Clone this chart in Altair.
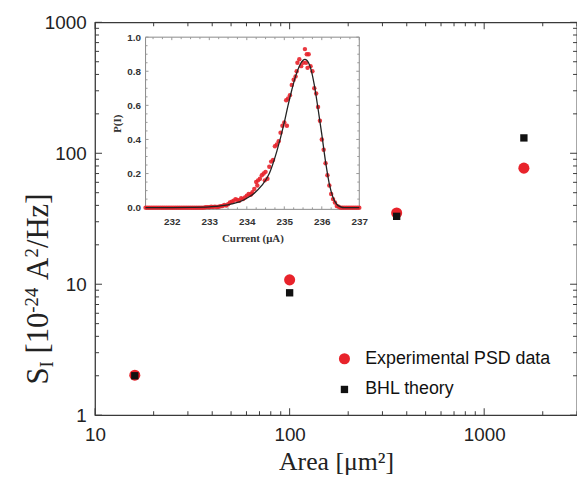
import altair as alt
import pandas as pd

# ---------------- data ----------------
series_names = ["Experimental PSD data", "BHL theory"]
area = [16, 100, 355, 1600]
exp_psd = [2.02, 10.8, 35.0, 77.0]
bhl = [2.0, 8.6, 33.0, 131.0]

x_major = [10, 100, 1000]
x_minor = [20, 30, 40, 50, 60, 70, 80, 90, 200, 300, 400, 500, 600, 700, 800, 900, 2000, 3000]
y_major = [1, 10, 100, 1000]
y_minor = [2, 3, 4, 5, 6, 7, 8, 9, 20, 30, 40, 50, 60, 70, 80, 90, 200, 300, 400, 500, 600, 700, 800, 900]

# inset: current histogram (red dots) and fit (black line)
dots_x_left = [231.30, 231.35, 231.40, 231.45, 231.50, 231.55, 231.60, 231.65, 231.70, 231.75,
               231.80, 231.85, 231.90, 231.95, 232.00, 232.05, 232.10, 232.15, 232.20, 232.25,
               232.30, 232.35, 232.40, 232.45, 232.50, 232.55, 232.60, 232.65, 232.70, 232.75,
               232.80, 232.85, 232.90, 232.95, 233.00, 233.05, 233.10, 233.15, 233.20]
dots_y_left = [0, 0, 0, 0, 0, 0, 0, 0, 0, 0,
               0, 0, 0, 0, 0, 0, 0, 0, 0, 0,
               0, 0, 0, 0, 0, 0, 0, 0, 0, 0,
               0, 0, 0.002, 0.003, 0.002, 0.005, 0.004, 0.006, 0.004]
dots_x_peak = [233.25, 233.30, 233.35, 233.40, 233.45, 233.50, 233.55, 233.60, 233.65, 233.70,
               233.75, 233.80, 233.85, 233.90, 233.95, 234.00, 234.05, 234.10, 234.15, 234.20,
               234.25, 234.30, 234.35, 234.40, 234.45, 234.50, 234.55, 234.60, 234.65, 234.70,
               234.75, 234.80, 234.85, 234.90, 234.95, 235.00, 235.05, 235.10, 235.15, 235.20,
               235.25, 235.30, 235.35, 235.40, 235.45, 235.50, 235.55, 235.60, 235.65, 235.70,
               235.75, 235.80, 235.85, 235.90, 235.95, 236.00, 236.05, 236.10, 236.15, 236.20,
               236.25, 236.30, 236.35, 236.40, 236.45,
               234.48, 235.07, 235.33, 235.58, 235.62, 234.28, 234.12]
dots_y_peak = [0.005, 0.008, 0.010, 0.015, 0.012, 0.020, 0.030, 0.035, 0.040, 0.050,
               0.045, 0.040, 0.055, 0.050, 0.060, 0.070, 0.080, 0.075, 0.090, 0.110,
               0.150, 0.160, 0.170, 0.190, 0.200, 0.210, 0.170, 0.240, 0.270, 0.280,
               0.360, 0.370, 0.390, 0.440, 0.480, 0.500, 0.630, 0.640, 0.660, 0.720,
               0.750, 0.770, 0.850, 0.870, 0.830, 0.850, 0.930, 0.900, 0.900, 0.830,
               0.800, 0.700, 0.670, 0.590, 0.510, 0.400, 0.340, 0.260, 0.190, 0.130,
               0.080, 0.050, 0.030, 0.010, 0.005,
               0.160, 0.480, 0.800, 0.850, 0.820, 0.130, 0.080]
dots_x_right = [236.50, 236.55, 236.60, 236.65, 236.70, 236.75, 236.80, 236.85, 236.90, 236.95, 237.00]
dots_y_right = [0, 0, 0, 0, 0, 0, 0, 0, 0, 0, 0]

curve_x = [231.3, 232.0, 232.5, 233.0, 233.2, 233.4, 233.6, 233.8, 234.0, 234.2, 234.4, 234.6,
           234.8, 235.0, 235.1, 235.2, 235.3, 235.4, 235.5, 235.55, 235.6, 235.7, 235.8, 235.9,
           236.0, 236.1, 236.2, 236.3, 236.4, 236.5, 236.6, 237.0]
curve_y = [0, 0, 0.001, 0.004, 0.008, 0.013, 0.022, 0.034, 0.055, 0.085, 0.13, 0.20,
           0.33, 0.50, 0.60, 0.69, 0.77, 0.83, 0.865, 0.87, 0.865, 0.82, 0.72, 0.58,
           0.43, 0.27, 0.14, 0.06, 0.02, 0.005, 0.0, 0.0]

ix_major = [232, 233, 234, 235, 236, 237]
ix_minor = [231.5, 231.75, 232.25, 232.5, 232.75, 233.25, 233.5, 233.75, 234.25, 234.5, 234.75,
            235.25, 235.5, 235.75, 236.25, 236.5, 236.75]
iy_major = [0.0, 0.2, 0.4, 0.6, 0.8, 1.0]
iy_minor = [0.05, 0.1, 0.15, 0.25, 0.3, 0.35, 0.45, 0.5, 0.55, 0.65, 0.7, 0.75, 0.85, 0.9, 0.95]

ytitle_parts = ["S", "I", "[10", "-24", "A", "2", "/Hz]"]

# ---------------- styling ----------------
W, H = 487, 397
RED = "#e8232b"
AX = "#3a3a3a"
SANS = "Liberation Sans"
SERIF = "Liberation Serif"

xs = alt.Scale(type="log", domain=[10, 3000], nice=False)
ys = alt.Scale(type="log", domain=[1, 1000], nice=False)

ax_x = alt.Axis(values=x_major, format="d", ticks=False, domain=False, grid=False,
                labelFont=SANS, labelFontSize=19, labelColor="#222", labelPadding=11,
                labelFlush=False,
                title="Area [μm²]", titleFont=SERIF, titleFontSize=26, titleFontWeight="normal",
                titleColor="#222", titlePadding=4)
ax_y = alt.Axis(values=y_major, format="d", ticks=False, domain=False, grid=False,
                labelFont=SANS, labelFontSize=19, labelColor="#222", labelPadding=9, title=None,
                labelFlush=False)

main_df = pd.DataFrame({
    "area": area + area,
    "S": exp_psd + bhl,
    "series": [series_names[0]] * len(area) + [series_names[1]] * len(area),
})

leg = alt.Legend(orient="none", legendX=243, legendY=331, title=None, labelFont=SANS,
                 labelFontSize=18, labelColor="#111", symbolStrokeWidth=0, padding=0,
                 rowPadding=13, labelOffset=12, symbolOpacity=1, labelLimit=400)

points = alt.Chart(main_df).mark_point(filled=True, opacity=1).encode(
    x=alt.X("area:Q", scale=xs, axis=ax_x),
    y=alt.Y("S:Q", scale=ys, axis=ax_y),
    color=alt.Color("series:N", scale=alt.Scale(domain=series_names, range=[RED, "#111"]), legend=leg),
    shape=alt.Shape("series:N", scale=alt.Scale(domain=series_names, range=["circle", "square"]), legend=leg),
    size=alt.Size("series:N", scale=alt.Scale(domain=series_names, range=[125, 55]), legend=leg),
)


def xticks(vals, length):
    df = pd.DataFrame({"v": vals})
    b = alt.Chart(df).mark_rule(color=AX, strokeWidth=1).encode(
        x=alt.X("v:Q", scale=xs, axis=ax_x), y=alt.value(H), y2=alt.value(H - length))
    t = alt.Chart(df).mark_rule(color=AX, strokeWidth=1).encode(
        x=alt.X("v:Q", scale=xs, axis=ax_x), y=alt.value(0), y2=alt.value(length))
    return [b, t]


def yticks(vals, length):
    df = pd.DataFrame({"v": vals})
    l = alt.Chart(df).mark_rule(color=AX, strokeWidth=1).encode(
        y=alt.Y("v:Q", scale=ys, axis=ax_y), x=alt.value(0), x2=alt.value(length))
    r = alt.Chart(df).mark_rule(color=AX, strokeWidth=1).encode(
        y=alt.Y("v:Q", scale=ys, axis=ax_y), x=alt.value(W), x2=alt.value(W - length))
    return [l, r]


one = pd.DataFrame({"a": [0]})
# y-axis title pieces (rotated, reading upward): baseline x, start y (plot coords), size
title_layout = [(-48, 366, 31), (-43, 348.8, 19), (-48, 334.7, 31), (-58, 293.4, 19),
                (-48, 260.4, 31), (-58, 237.6, 19), (-48, 228.1, 31)]
title_marks = []
for txt, (px, py, fs) in zip(ytitle_parts, title_layout):
    title_marks.append(alt.Chart(one).mark_text(
        angle=270, align="left", baseline="alphabetic", font=SERIF, fontSize=fs, color="#222"
    ).encode(x=alt.value(px), y=alt.value(py), text=alt.value(txt)))

main = alt.layer(
    points, *xticks(x_major, 7), *xticks(x_minor, 4), *yticks(y_major, 7), *yticks(y_minor, 4),
    *title_marks,
)

# ---------------- inset ----------------
IX0, IX1, IY0, IY1 = 51, 267, 189, 15
xi = alt.Scale(domain=[231.3, 237.0], range=[IX0, IX1], nice=False, zero=False)
yi = alt.Scale(domain=[-0.01, 1.0], range=[IY0, IY1], nice=False, zero=False)

ax_xi = alt.Axis(orient="bottom", offset=-(H - IY0), values=ix_major, format="d", ticks=False,
                 domain=False, grid=False, labelFont=SANS, labelFontSize=10, labelFontWeight="bold",
                 labelColor="#333", labelPadding=7, labelFlush=False, title="Current (μA)",
                 titleFont=SERIF, titleFontSize=11, titleFontWeight="bold", titleColor="#333",
                 titlePadding=6)
ax_yi = alt.Axis(orient="left", offset=-IX0, values=iy_major, format=".1f", ticks=False,
                 domain=False, grid=False, labelFont=SANS, labelFontSize=10, labelFontWeight="bold",
                 labelColor="#333", labelPadding=5, labelFlush=False, title="P(I)", titleFont=SERIF,
                 titleFontSize=11, titleFontWeight="bold", titleColor="#333", titlePadding=4)

dots_df = pd.DataFrame({"I": dots_x_left + dots_x_peak + dots_x_right,
                        "P": dots_y_left + dots_y_peak + dots_y_right})
curve_df = pd.DataFrame({"I": curve_x, "P": curve_y})

frame = alt.Chart(one).mark_rect(fill="white", stroke="#8a8a8a", strokeWidth=1).encode(
    x=alt.X(datum=231.3, type="quantitative", scale=xi, axis=ax_xi), x2=alt.X2(datum=237.0),
    y=alt.Y(datum=-0.01, type="quantitative", scale=yi, axis=ax_yi), y2=alt.Y2(datum=1.0))

dots = alt.Chart(dots_df).mark_circle(color=RED, size=20, opacity=0.9).encode(
    x=alt.X("I:Q", scale=xi, axis=ax_xi), y=alt.Y("P:Q", scale=yi, axis=ax_yi))

curve = alt.Chart(curve_df).mark_line(color="#222", strokeWidth=1.3, interpolate="monotone").encode(
    x=alt.X("I:Q", scale=xi, axis=ax_xi), y=alt.Y("P:Q", scale=yi, axis=ax_yi))


def ixt(vals, length):
    df = pd.DataFrame({"v": vals})
    return [alt.Chart(df).mark_rule(color="#999", strokeWidth=1).encode(
                x=alt.X("v:Q", scale=xi, axis=ax_xi), y=alt.value(IY0), y2=alt.value(IY0 - length)),
            alt.Chart(df).mark_rule(color="#999", strokeWidth=1).encode(
                x=alt.X("v:Q", scale=xi, axis=ax_xi), y=alt.value(IY1), y2=alt.value(IY1 + length))]


def iyt(vals, length):
    df = pd.DataFrame({"v": vals})
    return [alt.Chart(df).mark_rule(color="#999", strokeWidth=1).encode(
                y=alt.Y("v:Q", scale=yi, axis=ax_yi), x=alt.value(IX0), x2=alt.value(IX0 + length)),
            alt.Chart(df).mark_rule(color="#999", strokeWidth=1).encode(
                y=alt.Y("v:Q", scale=yi, axis=ax_yi), x=alt.value(IX1), x2=alt.value(IX1 - length))]


inset = alt.layer(frame, *ixt(ix_major, 3), *ixt(ix_minor, 2), *iyt(iy_major, 3), *iyt(iy_minor, 2),
                  dots, curve)

chart = alt.layer(main, inset).resolve_scale(x="independent", y="independent").properties(
    width=W, height=H, autosize="none",
    padding={"left": 88, "top": 12, "right": 0, "bottom": 60},
    background="white",
).configure_view(stroke=AX, strokeWidth=1.3)

chart.save("out.html", embed_options={"renderer": "svg", "actions": False})
